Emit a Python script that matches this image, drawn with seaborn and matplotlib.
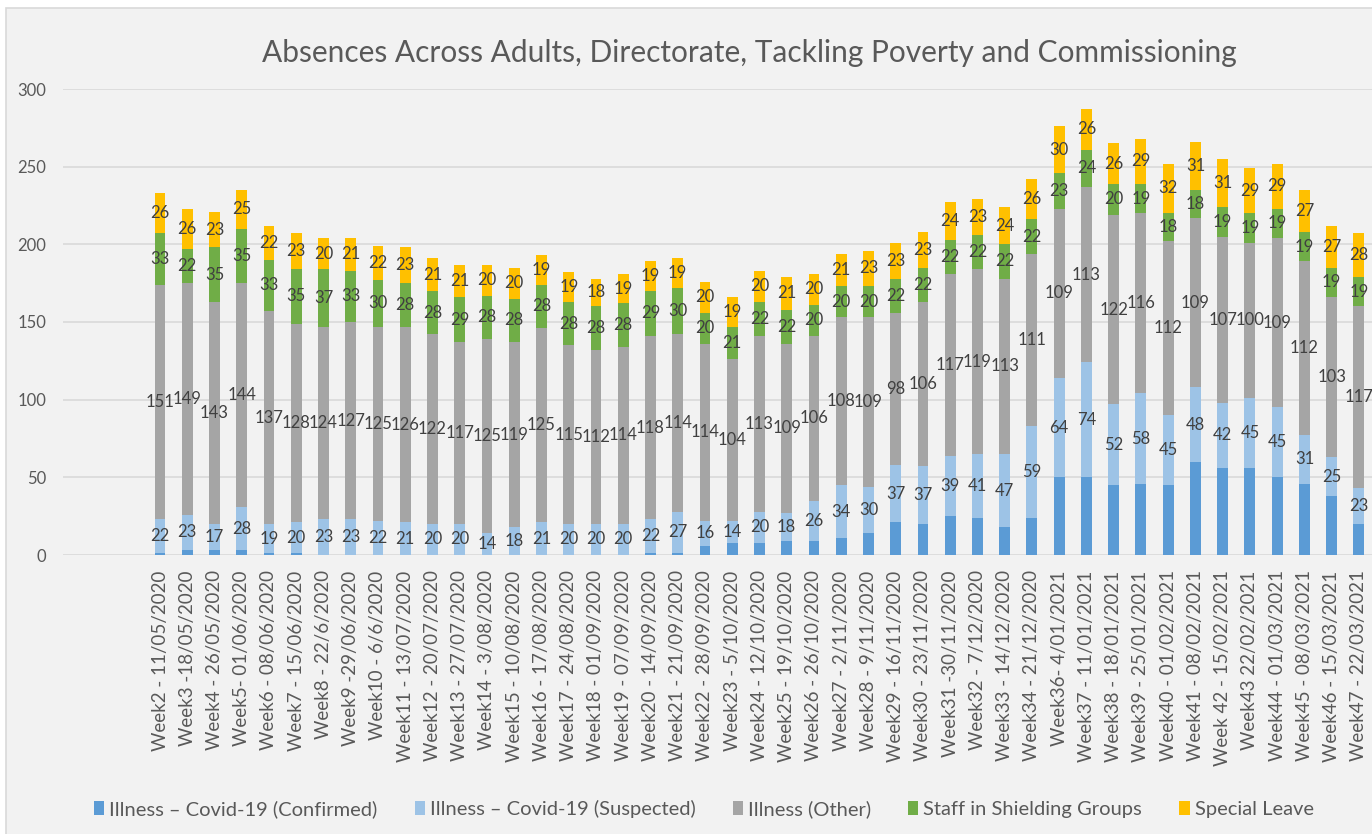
import matplotlib
matplotlib.use("Agg")
import matplotlib.pyplot as plt
from matplotlib.patches import Rectangle, Patch
import seaborn as sns

# Week labels (Week35 is missing in the source)
weeks = [
    "Week2 - 11/05/2020", "Week3 -18/05/2020", "Week4 - 26/05/2020", "Week5- 01/06/2020",
    "Week6 - 08/06/2020", "Week7 - 15/06/2020", "Week8 - 22/6/2020", "Week9 -29/06/2020",
    "Week10 - 6/6/2020", "Week11 - 13/07/2020", "Week12 - 20/07/2020", "Week13 - 27/07/2020",
    "Week14 - 3/08/2020", "Week15 - 10/08/2020", "Week16 - 17/08/2020", "Week17 - 24/08/2020",
    "Week18 - 01/09/2020", "Week19 - 07/09/2020", "Week20 - 14/09/2020", "Week21 - 21/09/2020",
    "Week22 - 28/09/2020", "Week23 - 5/10/2020", "Week24 - 12/10/2020", "Week25 - 19/10/2020",
    "Week26 - 26/10/2020", "Week27 - 2/11/2020", "Week28 - 9/11/2020", "Week29 - 16/11/2020",
    "Week30 - 23/11/2020", "Week31 -30/11/2020", "Week32 - 7/12/2020", "Week33 - 14/12/2020",
    "Week34 - 21/12/2020", "Week36- 4/01/2021", "Week37 - 11/01/2021", "Week38 - 18/01/2021",
    "Week39 - 25/01/2021", "Week40 - 01/02/2021", "Week41 - 08/02/2021", "Week 42 - 15/02/2021",
    "Week43 22/02/2021", "Week44 - 01/03/2021", "Week45 - 08/03/2021", "Week46 - 15/03/2021",
    "Week47 - 22/03/2021",
]

# series values (confirmed has no labels in the source)
confirmed = [1, 3, 3, 3, 1, 1, 0, 0, 0, 0, 0, 0, 0, 0, 0,
             0, 0, 0, 1, 1,
             6, 8, 8, 9, 9, 11, 14, 21, 20, 25,
             24, 18, 24,
             50, 50, 45, 46, 45, 60, 56, 56, 50, 46, 38, 20]
suspected = [22, 23, 17, 28, 19, 20, 23, 23, 22, 21, 20, 20, 14, 18, 21,
             20, 20, 20, 22, 27,
             16, 14, 20, 18, 26, 34, 30, 37, 37, 39,
             41, 47, 59,
             64, 74, 52, 58, 45, 48, 42, 45, 45, 31, 25, 23]
other = [151, 149, 143, 144, 137, 128, 124, 127, 125, 126, 122, 117, 125, 119, 125,
         115, 112, 114, 118, 114,
         114, 104, 113, 109, 106, 108, 109, 98, 106, 117,
         119, 113, 111,
         109, 113, 122, 116, 112, 109, 107, 100, 109, 112, 103, 117]
shielding = [33, 22, 35, 35, 33, 35, 37, 33, 30, 28, 28, 29, 28, 28, 28,
             28, 28, 28, 29, 30,
             20, 21, 22, 22, 20, 20, 20, 22, 22, 22,
             22, 22, 22,
             23, 24, 20, 19, 18, 18, 19, 19, 19, 19, 19, 19]
special = [26, 26, 23, 25, 22, 23, 20, 21, 22, 23, 21, 21, 20, 20, 19,
           19, 18, 19, 19, 19,
           20, 19, 20, 21, 20, 21, 23, 23, 23, 24,
           23, 24, 26,
           30, 26, 26, 29, 32, 31, 31, 29, 29, 27, 27, 28]

series_names = ["Illness \u2013 Covid-19 (Confirmed)", "Illness \u2013 Covid-19 (Suspected)",
                "Illness (Other)", "Staff in Shielding Groups", "Special Leave"]
series_vals = [confirmed, suspected, other, shielding, special]
colors = ["#5B9BD5", "#9DC3E6", "#A5A5A5", "#70AD47", "#FFC000"]
show_labels = [False, True, True, True, True]

plt.rcParams["font.family"] = ["Lato", "DejaVu Sans"]

W, H = 1372, 834
fig = plt.figure(figsize=(W / 100, H / 100), dpi=100, facecolor="white")

# chart area background with thin border
fig.patches.append(Rectangle((6 / W, -0.01), 1.0, 1 - 8 / H + 0.01, transform=fig.transFigure,
                             facecolor="#F2F2F2", edgecolor="#D9D9D9", linewidth=1.2, zorder=-10))

ax = fig.add_axes([63 / W, 1 - 555 / H, 1 - 63 / W, (555 - 89) / H])
ax.set_facecolor("none")

bottom = [0] * len(weeks)
for name, vals, c, lab in zip(series_names, series_vals, colors, show_labels):
    sns.barplot(x=weeks, y=vals, bottom=bottom, color=c, saturation=1, width=0.4,
                errorbar=None, linewidth=0, ax=ax)
    cont = ax.containers[-1]
    if lab:
        ax.bar_label(cont, labels=[str(v) for v in vals], label_type="center",
                     fontsize=12, color="#404040")
    bottom = [b + v for b, v in zip(bottom, vals)]

ax.set_ylim(0, 300)
ax.set_yticks(range(0, 301, 50))
ax.set_xlim(-3.56, 44.48)
ax.yaxis.grid(True, color="#D9D9D9", linewidth=1.2)
ax.xaxis.grid(False)
ax.set_axisbelow(True)
for s in ax.spines.values():
    s.set_visible(False)
ax.tick_params(axis="y", length=0, pad=12, labelsize=12, labelcolor="#595959")
ax.tick_params(axis="x", length=0, pad=11, labelsize=13.5, labelcolor="#595959")
plt.setp(ax.get_xticklabels(), rotation=90, ha="center", va="top")
ax.set_xlabel("")
ax.set_ylabel("")

fig.text(0.546, 1 - 53 / H, "Absences Across Adults, Directorate, Tackling Poverty and Commissioning",
         ha="center", va="center", fontsize=21.5, color="#595959")

handles = [Patch(facecolor=c, edgecolor="none", label=n) for n, c in zip(series_names, colors)]
fig.legend(handles=handles, loc="center", bbox_to_anchor=(0.513, 1 - 809 / H), ncol=5,
           frameon=False, fontsize=14.5, handlelength=0.5, handleheight=0.7,
           handletextpad=0.25, columnspacing=1.85, labelcolor="#595959")

fig.savefig("out.png", dpi=100, facecolor="white")
